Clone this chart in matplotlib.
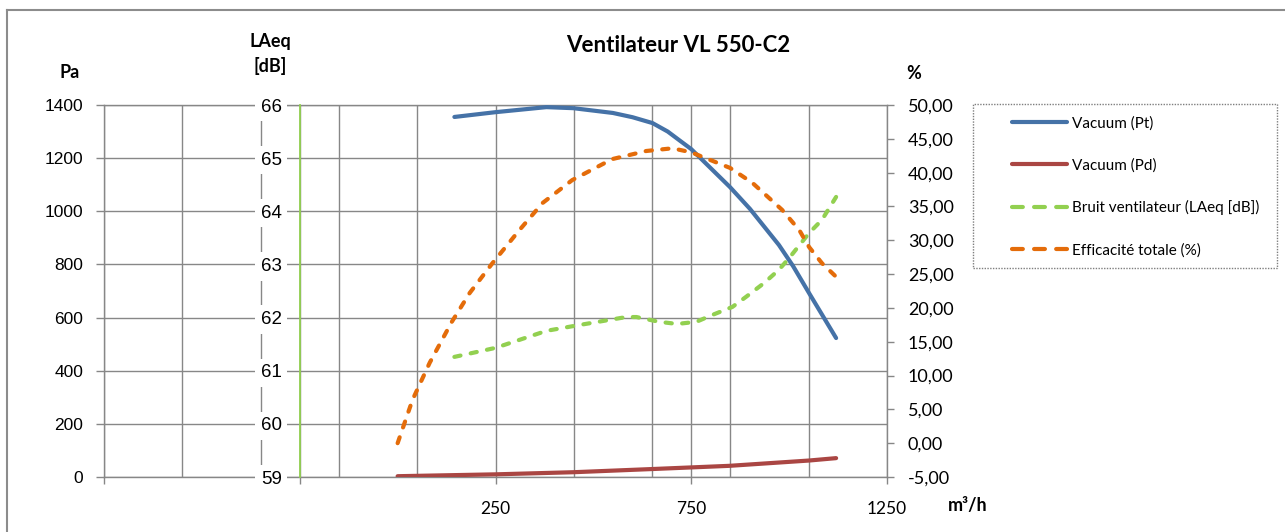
import numpy as np
import matplotlib
matplotlib.use("Agg")
import matplotlib.pyplot as plt
from matplotlib.lines import Line2D
from matplotlib.patches import Rectangle

# ---------------- data ----------------
title = "Ventilateur VL 550-C2"

flow_pt = [145, 250, 380, 449, 550, 600, 651, 690, 719, 750, 849, 900, 974, 1010, 1051, 1120]
pt = [1355, 1373, 1392, 1388, 1370, 1354, 1332, 1300, 1268, 1234, 1091, 1009, 873, 794, 692, 523]

flow_pd = [0, 250, 449, 651, 847, 1051, 1120]
pd_vals = [3, 10, 18, 30, 42, 62, 71]

flow_noise = [145, 250, 380, 464, 584, 610, 668, 714, 763, 804, 855, 890, 936, 974, 1000, 1051, 1084, 1120]
noise = [61.26, 61.43, 61.75, 61.86, 62.01, 62.01, 61.92, 61.88, 61.92, 62.05, 62.20, 62.39, 62.65, 62.90, 63.12, 63.59, 63.84, 64.27]

flow_eff = [0, 38, 82, 138, 184, 242, 311, 370, 446, 548, 635, 702, 750, 849, 906, 982, 1026, 1051, 1084, 1120]
eff = [0.0, 6.4, 11.9, 17.9, 22.2, 26.6, 31.5, 35.5, 38.9, 42.0, 43.2, 43.6, 43.0, 40.7, 38.5, 34.5, 31.5, 29.0, 26.6, 24.6]

series_labels = ["Vacuum (Pt)", "Vacuum (Pd)", "Bruit ventilateur (LAeq [dB])", "Efficacité totale (%)"]

x_major = [-750, -250, 250, 750, 1250]
x_major_labels = ["", "", "250", "750", "1250"]
pa_ticks = list(range(0, 1401, 200))
laeq_ticks = list(range(59, 67))
pct_ticks = list(range(-5, 51, 5))

# ---------------- style ----------------
C_BLUE = "#4572A7"
C_RED = "#AA4643"
C_GREEN = "#92D050"
C_ORANGE = "#E46C0A"
C_GRID = "#878787"
ARIAL = "Liberation Sans"
CAL = "Lato"

W, H = 1285, 532
fig = plt.figure(figsize=(W / 100, H / 100), dpi=100)

def fx(px):
    return px / W

def fy(py):
    return 1 - py / H

left, right, top, bottom = 104, 887, 105, 477
ax = fig.add_axes([fx(left), fy(bottom), fx(right - left), (bottom - top) / H])
ax.set_xlim(-750, 1250)
ax.set_ylim(0, 1400)

# grid
ax.set_xticks(x_major)
ax.set_xticklabels(x_major_labels, fontfamily=CAL, fontsize=12.5)
ax.set_xticks(list(range(-750, 1251, 200)), minor=True)
ax.set_yticks(pa_ticks)
ax.set_yticklabels([str(v) for v in pa_ticks], fontfamily=ARIAL, fontsize=12.5)
ax.grid(True, which="both", color=C_GRID, lw=1.0)
ax.set_axisbelow(True)
ax.tick_params(axis="x", which="major", length=5, color=C_GRID, width=1.0, pad=12)
ax.tick_params(axis="x", which="minor", length=0)
ax.tick_params(axis="y", length=6, color=C_GRID, width=1.0, pad=9)
for s in ["left", "bottom", "top"]:
    ax.spines[s].set_color(C_GRID)
    ax.spines[s].set_linewidth(1.0)
ax.spines["right"].set_visible(False)

ax.plot(flow_pt, pt, color=C_BLUE, lw=3.0, solid_capstyle="round", zorder=5)
ax.plot(flow_pd, pd_vals, color=C_RED, lw=3.0, solid_capstyle="round", zorder=5)

# LAeq axis (inside plot at x=-250)
ax_l = ax.twinx()
ax_l.set_ylim(59, 66)
ax_l.yaxis.tick_left()
ax_l.yaxis.set_label_position("left")
ax_l.spines["left"].set_position(("data", -250))
ax_l.spines["left"].set_color(C_GREEN)
ax_l.spines["left"].set_linewidth(1.3)
for s in ["right", "top", "bottom"]:
    ax_l.spines[s].set_visible(False)
ax_l.set_yticks(laeq_ticks)
ax_l.set_yticklabels([str(v) for v in laeq_ticks], fontfamily=ARIAL, fontsize=13.5)
ax_l.tick_params(axis="y", length=0, pad=13)
for lab in ax_l.get_yticklabels():
    lab.set_bbox(dict(facecolor="white", edgecolor="none", pad=4))
ax_l.plot(flow_noise, noise, color=C_GREEN, lw=3.0, dashes=(1.5, 2.5),
          dash_capstyle="round", zorder=5)

# % axis on the right
ax_r = ax.twinx()
ax_r.set_ylim(-5, 50)
ax_r.set_yticks(pct_ticks)
ax_r.set_yticklabels([f"{v:.2f}".replace(".", ",") for v in pct_ticks], fontfamily=CAL, fontsize=13)
ax_r.tick_params(axis="y", length=5, color=C_GRID, width=1.0, pad=10)
ax_r.spines["right"].set_color(C_GRID)
ax_r.spines["right"].set_linewidth(1.0)
for s in ["left", "top", "bottom"]:
    ax_r.spines[s].set_visible(False)
ax_r.plot(flow_eff, eff, color=C_ORANGE, lw=3.0, dashes=(1.5, 2.5),
          dash_capstyle="round", zorder=5)

# texts
fig.text(fx(678), fy(45), title, ha="center", va="center", fontfamily=CAL,
         fontweight="bold", fontsize=16)
fig.text(fx(70), fy(72), "Pa", ha="center", va="center", fontfamily=CAL,
         fontweight="bold", fontsize=13)
fig.text(fx(270), fy(42), "LAeq", ha="center", va="center", fontfamily=CAL,
         fontweight="bold", fontsize=13)
fig.text(fx(270), fy(66), "[dB]", ha="center", va="center", fontfamily=CAL,
         fontweight="bold", fontsize=13)
fig.text(fx(906), fy(73), "%", ha="left", va="center", fontfamily=CAL,
         fontweight="bold", fontsize=13)
fig.text(fx(948), fy(505), "m³/h", ha="left", va="center", fontfamily=CAL,
         fontweight="bold", fontsize=13)

# outer chart border (top and left visible)
fig.add_artist(Line2D([fx(7), 1.0], [fy(9.5), fy(9.5)], color="#8C8C8C", lw=1.5))
fig.add_artist(Line2D([fx(7), fx(7)], [fy(9.5), 0.0], color="#8C8C8C", lw=1.5))

# legend
fig.add_artist(Rectangle((fx(973), fy(268)), fx(1277 - 973), (268 - 104) / H,
                         facecolor="white", edgecolor="#7F7F7F", lw=1.0,
                         linestyle=(0, (1, 1))))
handles = [
    Line2D([], [], color=C_BLUE, lw=3.0, solid_capstyle="round"),
    Line2D([], [], color=C_RED, lw=3.0, solid_capstyle="round"),
    Line2D([], [], color=C_GREEN, lw=3.0, dashes=(2.6, 2.7), dash_capstyle="round"),
    Line2D([], [], color=C_ORANGE, lw=3.0, dashes=(2.6, 2.7), dash_capstyle="round"),
]
leg = fig.legend(handles, series_labels, loc="upper left",
                 bbox_to_anchor=(fx(1012), fy(116)), frameon=False,
                 prop={"family": CAL, "size": 11}, handlelength=3.6,
                 handletextpad=0.35, labelspacing=1.82, borderpad=0.0,
                 borderaxespad=0.0)

fig.savefig("out.png", dpi=100, facecolor="white")
